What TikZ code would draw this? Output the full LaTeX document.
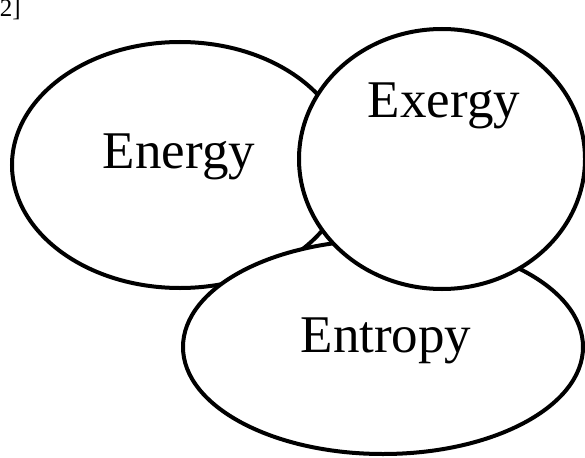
\documentclass[tikz,border=0pt]{standalone}
\usepackage{fontspec}
\setmainfont{Liberation Serif}
\usetikzlibrary{shapes.geometric}
\begin{document}
\begin{tikzpicture}[x=1pt,y=-1pt,
  blob/.style={draw=black, fill=white, line width=4pt, ellipse, inner sep=0pt, outer sep=0pt},
  lbl/.style={anchor=base, inner sep=0pt, font=\fontsize{53}{60}\selectfont}]
\useasboundingbox (0,0) rectangle (585,457);
\node[anchor=base east, inner sep=0pt, font=\fontsize{25}{28}\selectfont] (ref) at (21,17) {2]};
\node[blob, minimum width=336pt, minimum height=246pt] (energy) at (180,165) {};
\node[blob, minimum width=400pt, minimum height=214pt] (entropy) at (383,347) {};
\node[blob, minimum width=286pt, minimum height=260pt] (exergy) at (442,159) {};
\node[lbl] (tenergy) at (179,168) {Energy};
\node[lbl] (texergy) at (444,118) {Exergy};
\node[lbl] (tentropy) at (386,352) {Entropy};
\end{tikzpicture}
\end{document}
